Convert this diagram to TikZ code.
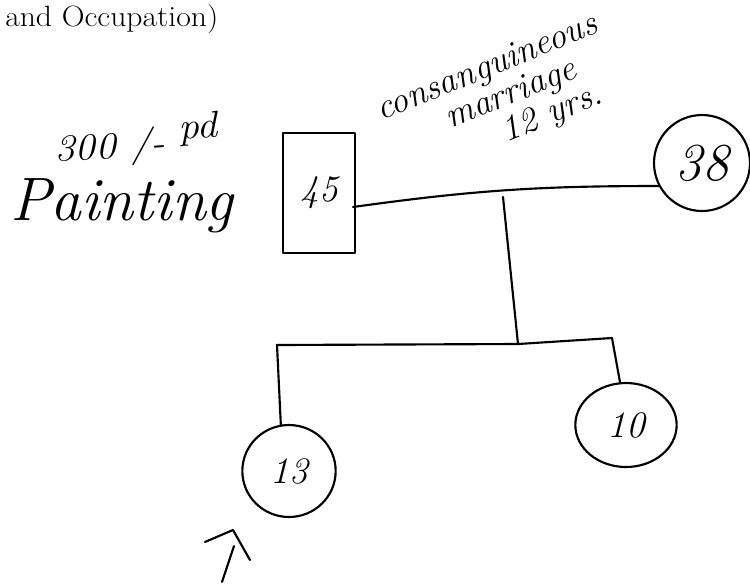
\documentclass[tikz,border=0pt]{standalone}
\usetikzlibrary{shapes.geometric}
\begin{document}
\begin{tikzpicture}[x=0.75pt,y=-0.75pt,
  pen/.style={line width=1.6pt, line cap=round, line join=round, black},
  hand/.style={font=\itshape, inner sep=0pt},
  person/.style={pen, draw, inner sep=0pt},
  printed/.style={font=\fontsize{22}{26}\selectfont, inner sep=0pt}]
\useasboundingbox (0,0) rectangle (750,587);
\fill[white] (0,0) rectangle (750,587);

% printed heading
\node[printed, anchor=base west] (head) at (5,26) {\scalebox{1.08}[1]{and Occupation)}};

% handwritten notes
\node[hand, anchor=base west, rotate=4, font=\fontsize{28}{30}\selectfont\itshape] (pay) at (55,162) {\scalebox{1.1}[1]{300 /- \raisebox{10pt}{pd}}};
\node[hand, anchor=base west, font=\fontsize{46}{50}\selectfont\itshape] (job) at (10,220) {Painting};
\node[hand, rotate=22, align=left, font=\fontsize{27}{25}\selectfont\itshape] (cons) at (500,100)
  {consanguineous\\\hspace*{1.7em}marriage\\\hspace*{3.0em}12 yrs.};

% persons
\node[person, rectangle, minimum width=54pt, minimum height=90pt,
      font=\fontsize{28}{30}\selectfont\itshape] (father) at (319,193) {\raisebox{-8pt}{45}};
\node[person, circle, minimum size=72pt,
      font=\fontsize{40}{44}\selectfont\itshape] (mother) at (702,163) {38};
\node[person, ellipse, minimum width=70pt, minimum height=69pt,
      font=\fontsize{28}{32}\selectfont\itshape] (son) at (289,471) {13};
\node[person, ellipse, minimum width=76pt, minimum height=63pt,
      font=\fontsize{28}{32}\selectfont\itshape] (daughter) at (626,425) {10};

% connectors
\coordinate (m1) at (353,207);
\coordinate (d1) at (503,197);
\coordinate (d2) at (518,344);
\coordinate (s1) at (277,345);
\coordinate (s3) at (612,338);
\draw[pen] (m1) to[bend left=4] (mother.208);
\draw[pen] (d1) -- (d2);
\draw[pen] (s1) -- (d2) -- (s3);
\draw[pen] (s1) -- (son.100);
\draw[pen] (s3) -- (daughter.98);

% proband arrow
\coordinate (a1) at (222,582);
\coordinate (a2) at (234,546);
\coordinate (c1) at (205,542);
\coordinate (c2) at (233,530);
\coordinate (c3) at (250,560);
\draw[pen] (a1) -- (a2);
\draw[pen] (c1) -- (c2) -- (c3);
\end{tikzpicture}
\end{document}
